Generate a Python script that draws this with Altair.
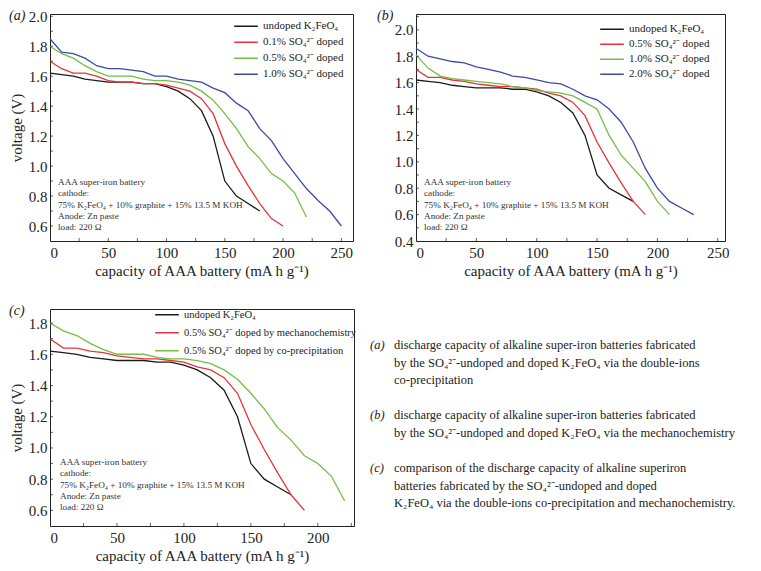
import altair as alt
import pandas as pd

FONT = "Liberation Serif"

# ---------------- data ----------------
undoped_x = [0, 10, 20, 30, 40, 50, 60, 70, 80, 90, 100, 110, 120, 130, 140, 150, 160, 170, 180]
undoped_y = [1.62, 1.61, 1.60, 1.58, 1.57, 1.56, 1.56, 1.56, 1.55, 1.55, 1.53, 1.50, 1.45, 1.37, 1.20, 0.90, 0.80, 0.75, 0.70]

# panel (a): double-ions co-precipitation
cop01_x = [0, 10, 20, 30, 40, 50, 60, 70, 80, 90, 100, 110, 120, 130, 140, 150, 160, 170, 180, 190, 200]
cop01_y = [1.70, 1.65, 1.62, 1.62, 1.60, 1.57, 1.56, 1.56, 1.55, 1.55, 1.54, 1.52, 1.50, 1.45, 1.35, 1.15, 1.00, 0.87, 0.75, 0.65, 0.60]
cop05_x = [0, 10, 20, 30, 40, 50, 60, 70, 80, 90, 100, 110, 120, 130, 140, 150, 160, 170, 180, 190, 200, 210, 220]
cop05_y = [1.80, 1.75, 1.72, 1.67, 1.63, 1.60, 1.60, 1.60, 1.58, 1.57, 1.57, 1.56, 1.54, 1.50, 1.44, 1.35, 1.25, 1.13, 1.05, 0.95, 0.90, 0.82, 0.66]
cop10_x = [0, 10, 20, 30, 40, 50, 60, 70, 80, 90, 100, 110, 120, 130, 140, 150, 160, 170, 180, 190, 200, 210, 220, 230, 240, 250]
cop10_y = [1.85, 1.76, 1.75, 1.72, 1.67, 1.65, 1.65, 1.64, 1.63, 1.60, 1.60, 1.58, 1.57, 1.56, 1.52, 1.49, 1.42, 1.37, 1.25, 1.17, 1.05, 0.95, 0.85, 0.77, 0.70, 0.60]

# panel (b): mechanochemistry
mec05_x = [0, 10, 20, 30, 40, 50, 60, 70, 80, 90, 100, 110, 120, 130, 140, 150, 160, 170, 180, 190]
mec05_y = [1.70, 1.64, 1.64, 1.62, 1.61, 1.59, 1.58, 1.57, 1.57, 1.56, 1.55, 1.52, 1.50, 1.45, 1.35, 1.15, 0.99, 0.84, 0.70, 0.60]
mec10_x = [0, 10, 20, 30, 40, 50, 60, 70, 80, 90, 100, 110, 120, 130, 140, 150, 160, 170, 180, 190, 200, 210]
mec10_y = [1.81, 1.71, 1.65, 1.63, 1.62, 1.61, 1.60, 1.59, 1.57, 1.56, 1.54, 1.53, 1.52, 1.50, 1.45, 1.40, 1.20, 1.05, 0.95, 0.85, 0.70, 0.60]
mec20_x = [0, 10, 20, 30, 40, 50, 60, 70, 80, 90, 100, 110, 120, 130, 140, 150, 160, 170, 180, 190, 200, 210, 220, 230]
mec20_y = [1.86, 1.80, 1.78, 1.76, 1.75, 1.72, 1.70, 1.68, 1.65, 1.64, 1.62, 1.60, 1.59, 1.55, 1.50, 1.47, 1.40, 1.30, 1.15, 0.95, 0.80, 0.70, 0.65, 0.60]

names_a = ["undoped K₂FeO₄", "0.1% SO₄²⁻ doped", "0.5% SO₄²⁻ doped", "1.0% SO₄²⁻ doped"]
names_b = ["undoped K₂FeO₄", "0.5% SO₄²⁻ doped", "1.0% SO₄²⁻ doped", "2.0% SO₄²⁻ doped"]
names_c = ["undoped K₂FeO₄", "0.5% SO₄²⁻ doped by mechanochemistry", "0.5% SO₄²⁻ doped by co-precipitation"]

colors4 = ["#1a1a1a", "#e8333a", "#72bf44", "#3b4ba0"]
colors3 = ["#1a1a1a", "#e8333a", "#72bf44"]

x_title = "capacity of AAA battery (mA h g⁻¹)"
y_title = "voltage (V)"

note_lines = ["AAA super-iron battery", "cathode:", "75% K₂FeO₄ + 10% graphite + 15% 13.5 M KOH",
              "Anode: Zn paste", "load: 220 Ω"]

caption_tags = ["(a)", "(b)", "(c)"]
caption_paras = [
    ["discharge capacity of alkaline super-iron batteries fabricated",
     "by the SO₄²⁻-undoped and doped K₂FeO₄ via the double-ions",
     "co-precipitation"],
    ["discharge capacity of alkaline super-iron batteries fabricated",
     "by the SO₄²⁻-undoped and doped K₂FeO₄ via the mechanochemistry"],
    ["comparison of the discharge capacity of alkaline superiron",
     "batteries fabricated by the SO₄²⁻-undoped and doped",
     "K₂FeO₄ via the double-ions co-precipitation and mechanochemistry."],
]


def make_df(series):
    rows = []
    for name, xs, ys in series:
        for xv, yv in zip(xs, ys):
            rows.append({"series": name, "cap": xv, "v": yv})
    return pd.DataFrame(rows)


def panel(df, names, colors, xdom, ydom, xlab, ylab, xtk, ytk, W, H, tag, tag_x,
          leg_x, leg_y, leg_h, leg_fs, note_x, note_y, show_ytitle=True):
    xs = alt.Scale(domain=xdom, nice=False, zero=False)
    ys = alt.Scale(domain=ydom, nice=False, zero=False)
    xaxis = alt.Axis(title=x_title, values=xlab)
    yaxis = alt.Axis(values=ylab, format=".1f", title=y_title if show_ytitle else None)
    base = alt.Chart(df)
    lines = base.mark_line(strokeWidth=1.3).encode(
        x=alt.X("cap:Q", scale=xs, axis=xaxis),
        y=alt.Y("v:Q", scale=ys, axis=yaxis),
        color=alt.Color("series:N", scale=alt.Scale(domain=names, range=colors),
                        sort=names,
                        legend=alt.Legend(title=None, orient="none", legendX=leg_x, legendY=leg_y,
                                          symbolType="stroke", symbolSize=560, symbolStrokeWidth=1.5,
                                          labelFontSize=leg_fs, labelFont=FONT, labelColor="#222",
                                          labelLimit=400, rowPadding=0, clipHeight=leg_h,
                                          labelOffset=4)),
    )
    xt = alt.Chart(pd.DataFrame({"t": xtk})).mark_tick(
        orient="vertical", size=6, thickness=1, color="#222", clip=True).encode(
        x=alt.X("t:Q", scale=xs, axis=xaxis), y=alt.value(H))
    yt = alt.Chart(pd.DataFrame({"t": ytk})).mark_tick(
        orient="horizontal", size=6, thickness=1, color="#222", clip=True).encode(
        y=alt.Y("t:Q", scale=ys, axis=yaxis), x=alt.value(0))
    note = alt.Chart(pd.DataFrame({"t": ["\n".join(note_lines)]})).mark_text(
        align="left", baseline="top", lineBreak="\n", lineHeight=11.3,
        fontSize=9.2, font=FONT, color="#333").encode(
        text="t:N", x=alt.value(note_x), y=alt.value(note_y))
    label = alt.Chart(pd.DataFrame({"t": [tag]})).mark_text(
        align="left", baseline="middle", fontSize=14, font=FONT, fontStyle="italic",
        color="#222").encode(text="t:N", x=alt.value(tag_x), y=alt.value(2))
    return alt.layer(lines, xt, yt, note, label).properties(width=W, height=H)


df_a = make_df([(names_a[0], undoped_x, undoped_y), (names_a[1], cop01_x, cop01_y),
                (names_a[2], cop05_x, cop05_y), (names_a[3], cop10_x, cop10_y)])
df_b = make_df([(names_b[0], undoped_x, undoped_y), (names_b[1], mec05_x, mec05_y),
                (names_b[2], mec10_x, mec10_y), (names_b[3], mec20_x, mec20_y)])
df_c = make_df([(names_c[0], undoped_x, undoped_y), (names_c[1], mec05_x, mec05_y),
                (names_c[2], cop05_x, cop05_y)])

xl_ab = [0, 50, 100, 150, 200, 250]
xt_ab = [25, 50, 75, 100, 125, 150, 175, 200, 225, 250]
xl_c = [0, 50, 100, 150, 200]
xt_c = [25, 50, 75, 100, 125, 150, 175, 200, 225]
yl_a = [0.6, 0.8, 1.0, 1.2, 1.4, 1.6, 1.8, 2.0]
yt_a = [0.6, 0.7, 0.8, 0.9, 1.0, 1.1, 1.2, 1.3, 1.4, 1.5, 1.6, 1.7, 1.8, 1.9, 2.0]
yl_b = [0.4, 0.6, 0.8, 1.0, 1.2, 1.4, 1.6, 1.8, 2.0]
yt_b = [0.5, 0.6, 0.7, 0.8, 0.9, 1.0, 1.1, 1.2, 1.3, 1.4, 1.5, 1.6, 1.7, 1.8, 1.9, 2.0, 2.1]
yl_c = [0.6, 0.8, 1.0, 1.2, 1.4, 1.6, 1.8]
yt_c = [0.6, 0.7, 0.8, 0.9, 1.0, 1.1, 1.2, 1.3, 1.4, 1.5, 1.6, 1.7, 1.8]

pa = panel(df_a, names_a, colors4, [0, 260], [0.5, 2.015], xl_ab, yl_a, xt_ab, yt_a, 303, 227,
           "(a)", -41, 183, 4.5, 15.5, 11, 8, 164)
pb = panel(df_b, names_b, colors4, [0, 256], [0.4, 2.12], xl_ab, yl_b, xt_ab, yt_b, 309, 227,
           "(b)", -39, 183, 7.8, 15, 11, 8, 164, show_ytitle=False)
pc = panel(df_c, names_c, colors3, [0, 227], [0.5, 1.89], xl_c, yl_c, xt_c, yt_c, 304, 217,
           "(c)", -41, 104, -3, 17.5, 10.5, 10, 149)

cap_layers = []
for tag, para, ypos in zip(caption_tags, caption_paras, [30, 100.4, 153.2]):
    cap_layers.append(alt.Chart(pd.DataFrame({"t": [tag]})).mark_text(
        align="left", baseline="top", fontSize=12.5, font=FONT, fontStyle="italic",
        color="#222").encode(text="t:N", x=alt.value(0), y=alt.value(ypos)))
    cap_layers.append(alt.Chart(pd.DataFrame({"t": ["\n".join(para)]})).mark_text(
        align="left", baseline="top", lineBreak="\n", lineHeight=17.6, fontSize=12.5, font=FONT,
        color="#222").encode(text="t:N", x=alt.value(24), y=alt.value(ypos)))
caption = alt.layer(*cap_layers).properties(
    width=340, height=217, view=alt.ViewBackground(strokeOpacity=0))

row1 = alt.hconcat(pa, pb, spacing=22).resolve_scale(color="independent")
row2 = alt.hconcat(pc, caption, spacing=12).resolve_scale(color="independent")
chart = alt.vconcat(row1, row2, spacing=24).resolve_scale(color="independent").properties(
    padding=0
).configure(
    background="white", font=FONT
).configure_view(
    stroke="#222", strokeWidth=1
).configure_axis(
    ticks=False, tickSize=0, domain=False, grid=False, labelOverlap=False,
    labelFont=FONT, labelFontSize=15, labelColor="#222",
    titleFont=FONT, titleFontSize=15, titleColor="#222", titleFontWeight="normal"
).configure_axisX(labelPadding=4, titlePadding=3).configure_axisY(labelPadding=3, titlePadding=4)

chart.save("out.html", embed_options={"renderer": "svg", "actions": False})
